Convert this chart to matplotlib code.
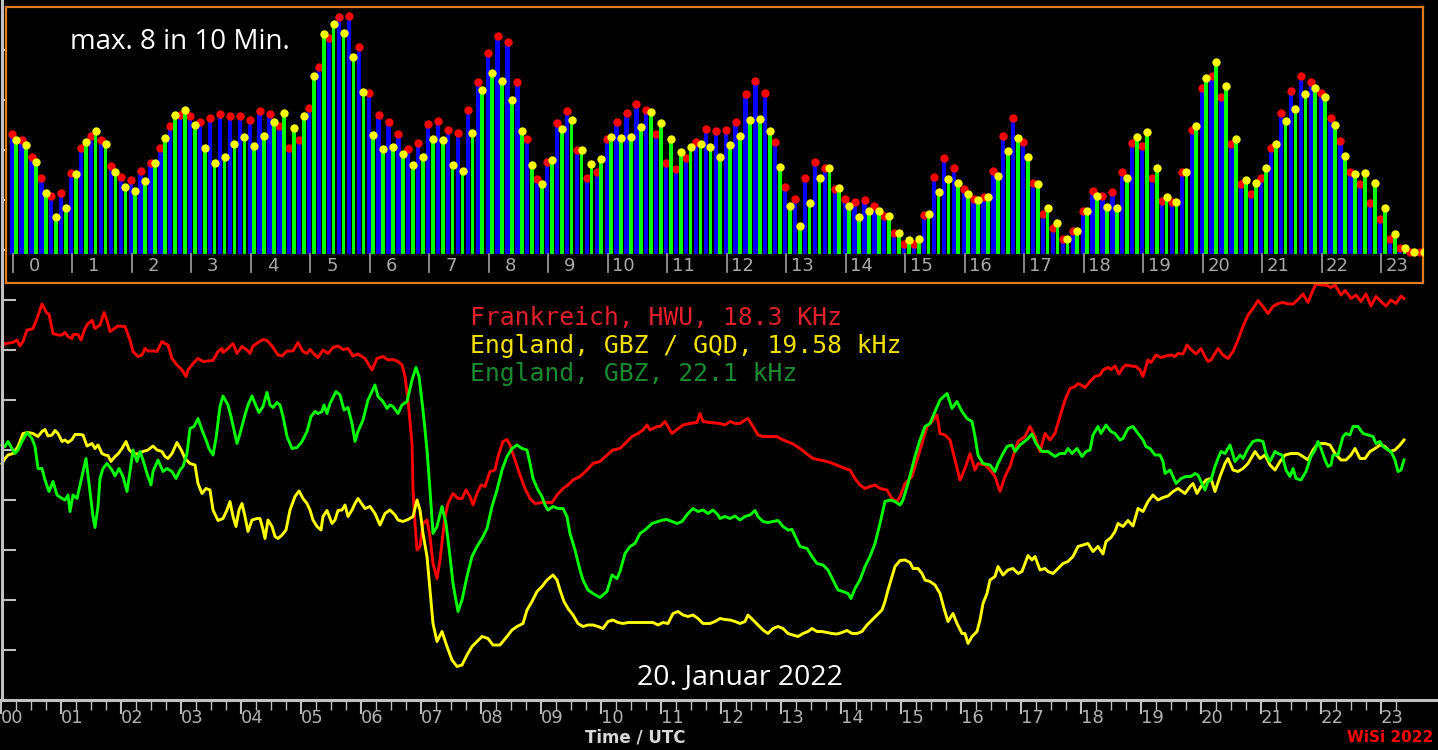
import matplotlib.pyplot as plt
import numpy as np

# obere Grafik: Ereignisse pro 10 Minuten (blau mit rotem Punkt, gruen mit gelbem Punkt)
blue_counts = [4.0, 3.8, 3.22, 2.52, 1.94, 2.04,
               2.69, 3.52, 3.94, 3.8, 2.94, 2.56,
               2.47, 2.77, 3.04, 3.54, 4.27, 4.63,
               4.61, 4.41, 4.52, 4.66, 4.61, 4.61,
               4.47, 4.77, 4.67, 4.28, 3.54, 3.8,
               4.88, 6.24, 7.19, 7.89, 7.93, 6.91,
               5.36, 4.63, 4.41, 4.0, 3.49, 3.69,
               4.32, 4.43, 4.13, 4.02, 4.8, 5.74,
               6.69, 7.27, 7.08, 5.72, 3.82, 2.5,
               3.06, 4.36, 4.78, 3.47, 2.52, 2.74,
               3.82, 4.39, 4.69, 5.0, 4.8, 3.99,
               3.04, 2.82, 3.19, 3.74, 4.16, 4.1,
               4.13, 4.39, 5.32, 5.78, 5.36, 3.72,
               2.24, 1.82, 2.52, 3.06, 2.88, 2.16,
               1.83, 1.72, 1.8, 1.6, 1.27, 0.71,
               0.32, 0.32, 1.3, 2.56, 3.19, 2.88,
               2.16, 1.82, 1.91, 2.77, 3.94, 4.54,
               3.72, 2.36, 1.32, 0.86, 0.5, 0.78,
               1.44, 2.1, 1.94, 2.08, 2.72, 3.71,
               3.6, 2.52, 1.77, 1.72, 2.72, 4.13,
               5.52, 5.93, 5.24, 3.67, 2.32, 1.99,
               2.52, 3.52, 4.69, 5.44, 5.93, 5.72,
               5.36, 4.52, 3.77, 2.72, 2.32, 1.71,
               1.17, 0.5, 0.19, 0.05, 0.05]

green_counts = [3.8, 3.63, 3.06, 2.02, 1.24, 1.52,
                2.67, 3.72, 4.1, 3.67, 2.72, 2.24,
                2.1, 2.43, 3.02, 3.88, 4.63, 4.8,
                4.3, 3.52, 3.02, 3.24, 3.67, 3.89,
                3.6, 3.93, 4.41, 4.69, 4.19, 4.6,
                5.93, 7.32, 7.66, 7.36, 6.56, 5.41,
                3.97, 3.49, 3.58, 3.33, 2.97, 3.22,
                3.82, 3.8, 2.97, 2.77, 4.02, 5.47,
                6.02, 5.78, 5.13, 4.1, 2.97, 2.32,
                3.13, 4.16, 4.47, 3.47, 3.0, 3.16,
                3.89, 3.86, 3.91, 4.24, 4.72, 4.36,
                3.82, 3.41, 3.58, 3.67, 3.58, 3.24,
                3.63, 3.94, 4.47, 4.49, 4.11, 2.91,
                1.61, 0.94, 1.69, 2.54, 2.86, 2.21,
                1.61, 1.22, 1.43, 1.43, 1.28, 0.71,
                0.47, 0.5, 1.32, 2.08, 2.49, 2.38,
                2.0, 1.8, 1.89, 2.61, 3.43, 3.86,
                3.22, 2.32, 1.52, 1.02, 0.5, 0.78,
                1.44, 1.94, 1.58, 1.54, 2.52, 3.91,
                4.06, 2.88, 1.91, 1.72, 2.72, 4.28,
                5.88, 6.41, 5.6, 3.82, 2.47, 2.36,
                2.86, 3.67, 4.43, 4.83, 5.32, 5.52,
                5.24, 4.3, 3.28, 2.67, 2.71, 2.38,
                1.52, 0.66, 0.19, 0.05, 0.05]

# untere Grafik: Pegel (Minute des Tages, Pegel)
red_pts = [(1, 70.7), (4, 71.3), (12, 71.5), (16, 72), (19, 70.8), (22, 71.7), (26, 74), (29, 74.1), (32, 74.3),
           (36, 76.3), (41, 79.2), (46, 77.3), (48, 77.2), (52, 73.3), (57, 73), (61, 73), (64, 73.5), (67, 72.7),
           (71, 72.3), (72, 73.1), (77, 73.1), (80, 72), (84, 74.3), (87, 75.3), (91, 75.9), (94, 74.3), (99, 75),
           (103, 77.5), (106, 75.9), (109, 73.7), (112, 74.1), (117, 74.8), (124, 74.7), (129, 72), (132, 69.7),
           (137, 68.7), (141, 69), (144, 70.3), (147, 69.8), (152, 69.8), (156, 69.7), (161, 71.7), (164, 71.3),
           (167, 71), (171, 68.3), (176, 67), (181, 66), (185, 64.7), (187, 66), (192, 67.3), (197, 68.3),
           (202, 67.7), (207, 67.8), (212, 67.9), (217, 69.7), (221, 70.3), (222, 69.5), (227, 70.3), (232, 71.3),
           (236, 69.3), (241, 70.7), (246, 70), (249, 69.3), (252, 70.8), (257, 71.5), (262, 72.1), (266, 71.9),
           (271, 70.8), (277, 69), (281, 68.8), (286, 69.8), (292, 69.8), (297, 71.5), (302, 69.7), (306, 69.3),
           (309, 70.1), (314, 69), (317, 68.5), (322, 70), (327, 69.3), (332, 70.5), (337, 70.8), (342, 70.1),
           (347, 70.3), (352, 68.8), (357, 69.2), (364, 68.3), (371, 66), (376, 68.3), (382, 68.7), (387, 68),
           (392, 68.1), (397, 67.7), (401, 67), (404, 64.7), (407, 60), (411, 51.3), (412, 42), (414, 35.3),
           (416, 30), (419, 30.7), (422, 35.3), (426, 36), (429, 32.7), (432, 27.3), (436, 24.3), (439, 28),
           (444, 36.7), (447, 39.3), (452, 41.3), (457, 40.3), (461, 40.3), (465, 42), (469, 40.7), (472, 39),
           (476, 41.3), (480, 43), (484, 42.7), (489, 45.7), (494, 46), (497, 48.7), (502, 51.7), (506, 52.1),
           (509, 51), (514, 48), (519, 45), (524, 42.3), (529, 40.3), (534, 39.3), (541, 39.5), (551, 39.5),
           (556, 41), (562, 42.3), (567, 43), (572, 44), (579, 44.7), (586, 46), (592, 47.3), (599, 47.7),
           (606, 49), (612, 50), (619, 50.3), (626, 51.7), (631, 52.7), (637, 53.3), (642, 54), (646, 55),
           (649, 54), (656, 54.7), (659, 54.7), (664, 55.7), (671, 53.3), (676, 54.1), (682, 55), (689, 55.3),
           (696, 55.5), (699, 57.3), (702, 55.7), (709, 55.5), (719, 55.3), (724, 55), (729, 55.7), (734, 55.3),
           (739, 55.3), (744, 56), (747, 56.3), (752, 54.7), (757, 53), (762, 52.7), (769, 52.7), (776, 52.7),
           (781, 52.1), (786, 51.7), (791, 51.3), (796, 50.7), (801, 50), (806, 49.2), (812, 48.3), (819, 48),
           (826, 47.7), (832, 47.3), (839, 46.7), (844, 46.3), (849, 46), (854, 44.3), (859, 43), (864, 42.3),
           (869, 42.7), (874, 43), (879, 42.3), (886, 42), (891, 40.3), (896, 39.7), (899, 40.7), (904, 43.3),
           (911, 44.7), (916, 48), (921, 51.3), (926, 54.7), (931, 55.7), (936, 57), (939, 53.3), (944, 53),
           (949, 52), (954, 48), (959, 44), (964, 46.3), (969, 49.3), (974, 46), (977, 47.3), (984, 47),
           (989, 46), (994, 44.7), (999, 41.7), (1004, 44.7), (1009, 46.7), (1012, 48.7), (1017, 51.7),
           (1024, 52.7), (1029, 54.7), (1034, 52.7), (1039, 49.7), (1044, 53.3), (1049, 52), (1054, 53.3),
           (1059, 56.7), (1064, 60), (1069, 62.3), (1074, 62.7), (1077, 63.3), (1080, 63), (1084, 62.5),
           (1089, 63.7), (1094, 64.7), (1099, 65), (1102, 66), (1107, 66.5), (1110, 66.1), (1114, 66.8),
           (1118, 65.2), (1122, 66.5), (1125, 67), (1130, 66.8), (1135, 66.7), (1139, 66), (1142, 64.7),
           (1147, 68), (1150, 67.5), (1155, 69), (1160, 68.5), (1165, 68.8), (1170, 69), (1174, 68.7),
           (1177, 69.3), (1182, 69.2), (1186, 71), (1190, 70.1), (1195, 69.2), (1200, 70.3), (1204, 68.7),
           (1207, 67.7), (1210, 68), (1214, 69.3), (1217, 70.3), (1222, 69), (1227, 68.3), (1232, 69.7),
           (1237, 72), (1242, 74.7), (1247, 77), (1252, 78.3), (1257, 79.9), (1262, 78.7), (1267, 77.3),
           (1272, 78.7), (1277, 79.3), (1282, 79.5), (1287, 79.2), (1292, 79.2), (1297, 80.1), (1302, 81.2),
           (1307, 79.5), (1312, 82), (1315, 83.2), (1320, 83), (1325, 83), (1330, 82.5), (1334, 83), (1337, 82),
           (1340, 81), (1344, 81.9), (1347, 81.2), (1350, 80.3), (1355, 81), (1360, 79.7), (1365, 81.2),
           (1370, 78.8), (1375, 80.7), (1380, 79.7), (1385, 78.8), (1390, 80), (1395, 79.3), (1400, 80.8),
           (1403, 80.3)]

yellow_pts = [(1, 47.3), (4, 48.3), (7, 49), (12, 49.3), (17, 50.7), (22, 53.3), (27, 53.5), (32, 53.3), (37, 52.7),
              (41, 53.7), (44, 54.1), (47, 52.8), (51, 53), (54, 53.9), (57, 53.3), (61, 51.7), (64, 52), (67, 51.5),
              (71, 52.1), (74, 53.1), (79, 53.1), (82, 53), (86, 50.8), (91, 51.3), (94, 50.3), (97, 51), (101, 49.3),
              (104, 49), (107, 48.9), (110, 47.7), (114, 48.7), (117, 49.2), (121, 50.3), (125, 51.7), (128, 50.1),
              (132, 49.3), (137, 49.2), (142, 49.7), (147, 50), (152, 50.8), (156, 50), (161, 49.7), (164, 48.7),
              (167, 48.3), (171, 49.3), (176, 51.5), (181, 49.7), (184, 48.3), (189, 47.3), (194, 47), (197, 43.3),
              (201, 41.3), (205, 42.3), (209, 42), (212, 38), (217, 35.9), (222, 36.3), (226, 38), (229, 39.7),
              (232, 36.7), (235, 34.7), (238, 38), (241, 39.3), (244, 36.7), (247, 33.7), (251, 36), (256, 36.3),
              (259, 36.3), (262, 34.1), (264, 32.3), (267, 36), (271, 34.7), (274, 32.7), (277, 32.3), (281, 33),
              (285, 34), (289, 38), (294, 40.7), (298, 41.8), (302, 40.3), (306, 39.3), (309, 38), (312, 36),
              (316, 34.7), (320, 34), (322, 36.7), (326, 37.9), (331, 35.3), (334, 36), (337, 37.9), (341, 38),
              (344, 39), (347, 36.7), (351, 38), (354, 39.3), (357, 40.3), (364, 38.3), (369, 38.7), (374, 37.3),
              (379, 35), (384, 37.3), (389, 38), (394, 37), (397, 36), (402, 35.7), (407, 36.1), (412, 36.7),
              (416, 40), (419, 38), (422, 33.3), (426, 28.7), (429, 22), (432, 15.3), (436, 11.7), (441, 13.7),
              (446, 10.7), (451, 8), (456, 6.7), (461, 7), (466, 9), (471, 10.7), (476, 11.7), (481, 12.7),
              (487, 12.3), (492, 11), (499, 11), (506, 12.7), (511, 14), (516, 14.7), (522, 15.3), (526, 18),
              (531, 19.7), (536, 21.7), (541, 22.7), (546, 24), (552, 25), (556, 24), (559, 22), (563, 19.7),
              (567, 18.3), (572, 17), (577, 15.3), (582, 14.7), (587, 15), (592, 15), (597, 14.7), (602, 14.3),
              (607, 15.7), (612, 16), (617, 15.5), (622, 15.3), (627, 15.5), (636, 15.5), (646, 15.5), (652, 15.5),
              (657, 15), (662, 15.5), (667, 15.3), (672, 17.3), (677, 17.7), (682, 17), (687, 16.7), (692, 17),
              (697, 16.3), (702, 15.3), (709, 15.3), (714, 15.7), (719, 16.3), (724, 16.1), (729, 16), (734, 15.7),
              (739, 15.3), (744, 15.7), (747, 17), (752, 16), (757, 15), (762, 14), (767, 13.3), (772, 14.3),
              (777, 14.7), (782, 14.3), (787, 13.3), (792, 13), (797, 12.7), (802, 13.3), (807, 13.7), (811, 14.3),
              (816, 13.7), (821, 13.7), (826, 13.5), (831, 13.3), (836, 13.2), (841, 13.5), (846, 13.9),
              (851, 13.3), (856, 13.3), (861, 13.7), (866, 15), (871, 16), (876, 17), (881, 18), (884, 19.7),
              (887, 22), (891, 24.7), (894, 26.7), (899, 27.9), (904, 28), (909, 27.5), (912, 26.3), (917, 26.3),
              (921, 25.3), (924, 24), (929, 23.7), (934, 23), (939, 21.3), (943, 18.3), (947, 15.7), (952, 17.3),
              (956, 15.3), (961, 13.3), (964, 13.3), (967, 11.3), (971, 12.7), (976, 13.7), (979, 16), (982, 19.3),
              (986, 21.3), (989, 24), (994, 24.7), (997, 26.7), (1002, 25), (1007, 26), (1012, 26.3), (1017, 25.3),
              (1021, 25.7), (1024, 27.3), (1027, 28.9), (1031, 28), (1034, 28.7), (1039, 26), (1044, 26.3),
              (1047, 25.7), (1052, 25.3), (1057, 26.3), (1062, 27.3), (1067, 27.7), (1072, 28.7), (1077, 30.7),
              (1082, 31), (1087, 31.3), (1092, 29.7), (1097, 30.7), (1102, 29.2), (1105, 31.7), (1110, 32.5),
              (1114, 33.7), (1117, 35.3), (1122, 34.7), (1127, 35.9), (1132, 34.8), (1137, 38.3), (1142, 37.7),
              (1147, 39.7), (1152, 41), (1157, 40), (1162, 40.5), (1167, 40.8), (1172, 41.7), (1177, 42.3),
              (1184, 41.3), (1189, 42.7), (1192, 43.3), (1196, 41.3), (1200, 42.7), (1205, 44), (1210, 44.3),
              (1214, 41.7), (1219, 44.7), (1224, 47.3), (1227, 48.3), (1232, 46), (1237, 45.7), (1242, 46.3),
              (1247, 47.3), (1254, 49.7), (1259, 48.3), (1264, 49), (1269, 47), (1274, 46), (1279, 47.7),
              (1284, 49), (1290, 49.3), (1297, 49.3), (1302, 48.7), (1307, 48), (1312, 50), (1317, 51.3),
              (1324, 51.3), (1329, 51), (1334, 49.3), (1340, 48), (1345, 48), (1350, 49), (1354, 50.3),
              (1359, 48.3), (1364, 48.3), (1369, 49.7), (1374, 50.3), (1379, 51), (1384, 50.7), (1389, 49.7),
              (1394, 50), (1399, 51), (1403, 52)]

green_pts = [(1, 51), (4, 50.7), (7, 51.7), (11, 50.3), (14, 49.3), (17, 50), (21, 51.7), (26, 53.5), (31, 52.3),
             (34, 50.7), (37, 46.3), (41, 46.3), (44, 44), (48, 41.7), (52, 43.7), (56, 41), (61, 40.3), (64, 40),
             (67, 41), (69, 37.7), (72, 41), (76, 40.3), (81, 44.7), (85, 48.3), (88, 43.3), (92, 36.7), (94, 34.5),
             (97, 38.7), (99, 44.3), (102, 46.3), (106, 47.3), (111, 46), (114, 44.8), (118, 46.3), (122, 44.7),
             (126, 41.7), (129, 45.7), (132, 50), (136, 47.7), (139, 49.7), (142, 48), (146, 45.3), (150, 43),
             (152, 45.7), (157, 48), (162, 45.7), (166, 46.3), (171, 45.7), (175, 44.3), (179, 46), (182, 46.7),
             (186, 49.3), (189, 54.3), (193, 54.7), (197, 56.3), (201, 54), (205, 52), (208, 50.3), (212, 49),
             (215, 52.3), (219, 58.7), (222, 60.8), (227, 59), (230, 56.7), (236, 51.3), (239, 53.3), (244, 57),
             (247, 59), (251, 60.8), (254, 59.3), (258, 57.5), (262, 58.7), (266, 61.5), (269, 59), (272, 58.5),
             (276, 59.5), (279, 59), (282, 56.7), (286, 52.7), (291, 50.3), (296, 50.5), (301, 51.7), (306, 53.7),
             (310, 56.7), (314, 57.7), (317, 57.3), (321, 57.7), (323, 59), (326, 57.3), (329, 59.3), (335, 61.7),
             (339, 61), (343, 58), (347, 58.5), (351, 55.3), (354, 51.7), (357, 53.7), (362, 56), (367, 60),
             (374, 63), (377, 60.7), (382, 59.7), (386, 58.3), (389, 59), (392, 58.7), (397, 57.3), (401, 59),
             (406, 59.7), (411, 64), (415, 66.5), (418, 64.7), (422, 58), (426, 50), (429, 42), (432, 33.3),
             (436, 34.7), (441, 38.7), (445, 35.3), (449, 28.7), (452, 23.3), (457, 17.7), (461, 20), (466, 24.7),
             (471, 28.7), (476, 30.7), (481, 32.3), (486, 34.3), (491, 38.7), (496, 42), (501, 46), (506, 48.7),
             (511, 50.3), (516, 51), (521, 50.3), (526, 50), (529, 47.3), (532, 44.3), (537, 42), (541, 40.7),
             (544, 39), (547, 38), (552, 38.7), (557, 38.3), (562, 38.3), (566, 36.7), (569, 33.3), (574, 30),
             (579, 26), (582, 24), (587, 22), (592, 21.3), (599, 20.5), (606, 21.7), (611, 25), (616, 24.3),
             (619, 25.7), (624, 29.3), (629, 30.7), (634, 31.3), (639, 33.3), (644, 34), (651, 35.3), (657, 35.7),
             (662, 36), (666, 36.1), (671, 35.7), (676, 35.3), (681, 35.7), (687, 37.3), (692, 38.3), (697, 37.7),
             (702, 38), (707, 37.3), (712, 38), (717, 37), (719, 36.3), (724, 36.7), (729, 36.3), (734, 36.8),
             (739, 36), (744, 36.7), (749, 37), (754, 37.9), (757, 36.7), (762, 35.7), (767, 35.5), (772, 35.7),
             (777, 35.9), (782, 34.7), (787, 34), (791, 34.1), (796, 32), (799, 30.7), (806, 30.3), (811, 28.7),
             (816, 27.3), (822, 27), (827, 26), (832, 24), (837, 22), (842, 21.7), (847, 21.3), (850, 20.3),
             (854, 22.3), (859, 24), (864, 26.7), (869, 28.7), (874, 31.3), (879, 35.3), (884, 39.7), (889, 40),
             (894, 39.7), (899, 39), (902, 40), (907, 43.3), (914, 48.7), (919, 52), (924, 54.7), (929, 55.3),
             (934, 57.7), (939, 60), (946, 61.3), (951, 58.3), (956, 59.7), (961, 57.7), (966, 56.3), (971, 55.7),
             (974, 52.7), (977, 49), (982, 47.3), (989, 47), (994, 45.7), (997, 47.3), (1002, 49.3), (1006, 50.7),
             (1011, 51), (1014, 49.7), (1019, 51), (1026, 52.1), (1031, 53.2), (1035, 51.3), (1041, 49.7),
             (1047, 49.7), (1054, 48.7), (1059, 49.3), (1064, 49.3), (1067, 50.3), (1071, 49.3), (1076, 50.3),
             (1081, 48.7), (1085, 49.7), (1089, 50), (1092, 53), (1097, 54.7), (1100, 53.3), (1105, 55),
             (1110, 53.7), (1114, 53.3), (1119, 52), (1122, 52.3), (1127, 54.3), (1132, 54.7), (1137, 53.3),
             (1142, 52), (1145, 50.7), (1149, 50.3), (1154, 49), (1159, 49), (1162, 47.7), (1164, 45.3),
             (1169, 46), (1172, 44.7), (1175, 43.3), (1180, 44.3), (1185, 44.7), (1190, 44.7), (1194, 45.3),
             (1197, 45), (1200, 43.7), (1204, 42), (1207, 43.7), (1210, 44), (1214, 46.7), (1217, 48.3),
             (1220, 49.7), (1224, 49.3), (1229, 51), (1234, 47.7), (1239, 49), (1242, 48.3), (1247, 50.3),
             (1252, 51.7), (1257, 52), (1262, 51.7), (1265, 49.3), (1269, 47.7), (1274, 49.7), (1277, 49.3),
             (1281, 49), (1285, 46), (1289, 44.7), (1292, 46.3), (1295, 44.3), (1300, 44), (1305, 45.7),
             (1310, 48.7), (1314, 50), (1317, 51.7), (1320, 50.3), (1324, 48), (1327, 46.7), (1330, 47),
             (1332, 49), (1337, 49), (1342, 52.7), (1345, 53.3), (1349, 53), (1352, 54.7), (1357, 54.7),
             (1362, 53.3), (1367, 53), (1372, 52.7), (1375, 51.3), (1379, 51.7), (1382, 50.7), (1387, 50),
             (1390, 49.7), (1394, 48), (1397, 45.7), (1400, 46), (1403, 48)]

hours = list(range(24))
legend_texts = ['Frankreich, HWU, 18.3 KHz', 'England, GBZ / GQD, 19.58 kHz', 'England, GBZ, 22.1 kHz']
legend_colors = ['#e0202a', '#f2e000', '#1a8a32']

fig = plt.figure(figsize=(14.38, 7.5), dpi=100, facecolor='black')

# --- untere Grafik (ganze Flaeche) ---
ax = fig.add_axes([0, 0, 1, 1], facecolor='black')
ax.set_xlim(-1 / 60, 1437 / 60)
ax.set_ylim(-10, 140)

for pts, col in ((red_pts, '#ff0000'), (yellow_pts, '#ffff00'), (green_pts, '#00ff00')):
    t, v = zip(*pts)
    ax.plot(np.array(t) / 60, v, color=col, lw=2.1, solid_joinstyle='round')

ax.spines['top'].set_visible(False)
ax.spines['right'].set_visible(False)
ax.spines['left'].set_position(('data', 0.01))
ax.spines['left'].set_bounds(0, 140)
ax.spines['bottom'].set_position(('data', 0))
for s in ['left', 'bottom']:
    ax.spines[s].set_color('#c0c0c0')
    ax.spines[s].set_linewidth(2.2)

ax.set_yticks(range(10, 140, 10))
ax.tick_params(axis='y', direction='in', length=10, width=1.5, color='#c0c0c0', labelleft=False)
ax.set_xticks(hours, [f'{h:02d}' for h in hours])
ax.set_xticks([h + q for h in hours for q in (0.25, 0.5, 0.75) if h + q < 23.3], minor=True)
ax.tick_params(axis='x', which='major', direction='out', length=10, width=1.5, color='#c0c0c0',
               labelcolor='#b0b0b0', labelsize=13, pad=-3.5)
ax.tick_params(axis='x', which='minor', direction='out', length=7, width=1, color='#c0c0c0')
for lbl in ax.get_xticklabels():
    lbl.set_ha('left')

for i, (txt, col) in enumerate(zip(legend_texts, legend_colors)):
    ax.text(7.82, 76.4 - i * 5.6, txt, color=col, fontsize=17.8, family='DejaVu Sans Mono',
            ha='left', va='center')

ax.text(12.32, 4.6, '20. Januar 2022', color='white', fontsize=20.5, family='Open Sans',
        ha='center', va='center')
ax.text(10.57, -7.6, 'Time / UTC', color='#d8d8d8', fontsize=12, fontweight='bold',
        ha='center', va='center')
ax.text(23.15, -7.6, 'WiSi 2022', color='#ff0000', fontsize=11, fontweight='bold',
        ha='center', va='center')

# --- obere Grafik mit orangem Rahmen ---
ax2 = fig.add_axes([6 / 1438, 1 - 283 / 750, 1417 / 1438, 276 / 750], facecolor='black')
ax2.set_xlim(-0.1126, 23.703)
ax2.set_ylim(-0.967, 8.233)

slots = np.arange(len(blue_counts)) / 6
ax2.bar(slots - 0.017, blue_counts, width=0.072, color='#0000ff', zorder=2)
ax2.plot(slots - 0.017, blue_counts, 'o', color='#ff0000', ms=6, mew=0, zorder=3)
ax2.bar(slots + 0.06, green_counts, width=0.062, color='#00ff00', zorder=4)
ax2.plot(slots + 0.06, green_counts, 'o', color='#ffff00', ms=6, mew=0, zorder=5)

for h in hours:
    ax2.plot([h, h], [0, -0.6], color='#a0a0a0', lw=1.2, zorder=6)
    ax2.text(h + 0.46, -0.4, str(h), color='#a8a8a8', fontsize=13, ha='right', va='center')

ax2.text(0.963, 7.07, 'max. 8 in 10 Min.', color='white', fontsize=20, family='Open Sans',
         ha='left', va='center')

ax2.set_xticks([])
ax2.set_yticks([])
for s in ax2.spines.values():
    s.set_color('#e07b1e')
    s.set_linewidth(1.6)

fig.savefig('out.png', dpi=100, facecolor='black')
